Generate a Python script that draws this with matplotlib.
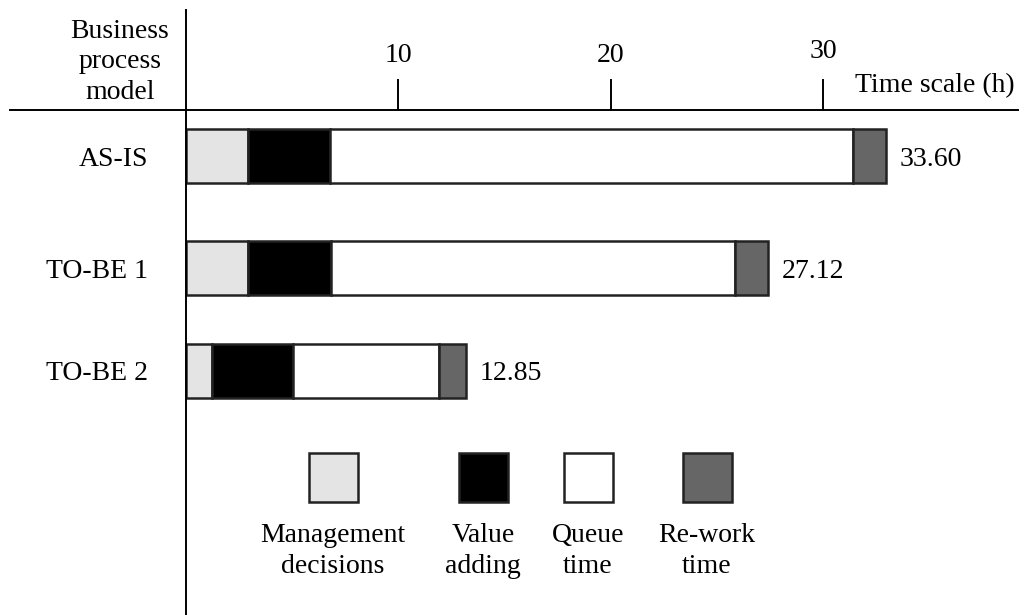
import matplotlib.pyplot as plt
from matplotlib.patches import Rectangle

# process models and time components (hours)
models = ["AS-IS", "TO-BE 1", "TO-BE 2"]
components = ["Management\ndecisions", "Value\nadding", "Queue\ntime", "Re-work\ntime"]
management = [2.92, 2.92, 1.22]
value_adding = [3.86, 3.91, 3.82]
queue = [24.64, 19.03, 6.88]
rework = [1.55, 1.55, 1.27]
totals = ["33.60", "27.12", "12.85"]
ticks = [10, 20, 30]

colors = ["#e4e4e4", "#000000", "#ffffff", "#666666"]
edge = "#222222"

plt.rcParams['font.family'] = ['Liberation Serif', 'DejaVu Serif']

W, H = 1031, 615
x0, scale = 186, 21.23  # pixel of origin, pixels per hour


def px(p):
    return (p - x0) / scale


fig = plt.figure(figsize=(W / 100, H / 100), dpi=100)
ax = fig.add_axes([0, 0, 1, 1])
ax.set_xlim(px(0), px(W))
ax.set_ylim(H, 0)
ax.axis('off')

rows_y = [156, 268, 371]
bar_h = 54

series = [management, value_adding, queue, rework]
left = [0.0] * len(models)
for vals, c in zip(series, colors):
    ax.barh(rows_y, vals, left=left, height=bar_h, color=c,
            edgecolor=edge, linewidth=1.8, zorder=3)
    left = [l + v for l, v in zip(left, vals)]

for y, end, t in zip(rows_y, left, totals):
    ax.annotate(t, (end, y + 3), xytext=(10, 0), textcoords='offset points',
                ha='left', va='center', fontsize=20)

for y, m in zip(rows_y, models):
    ax.text(px(148), y + 3, m, ha='right', va='center', fontsize=20)

# axes lines
ax.plot([0, 0], [10, H], color='black', lw=1.4, zorder=4)
ax.plot([px(10), px(1018)], [110, 110], color='black', lw=1.4, zorder=4)
for t in ticks:
    ax.plot([t, t], [80, 110], color='black', lw=1.4)
    ax.text(t, 56 if t < 30 else 52, str(t), ha='center', va='center', fontsize=20)
ax.text(px(855), 86, "Time scale (h)", ha='left', va='center', fontsize=20)
ax.text(px(120), 62, "Business\nprocess\nmodel", ha='center', va='center',
        fontsize=20, linespacing=1.3)

# legend
leg_cx = [333, 483, 588, 707]
sq = 49
for cx, c, lab in zip(leg_cx, colors, components):
    ax.add_patch(Rectangle((px(cx - sq / 2), 453), sq / scale, sq,
                           facecolor=c, edgecolor=edge, linewidth=1.8))
    ax.text(px(cx), 551, lab, ha='center', va='center', fontsize=20,
            linespacing=1.3)

fig.savefig("out.png", dpi=100)
